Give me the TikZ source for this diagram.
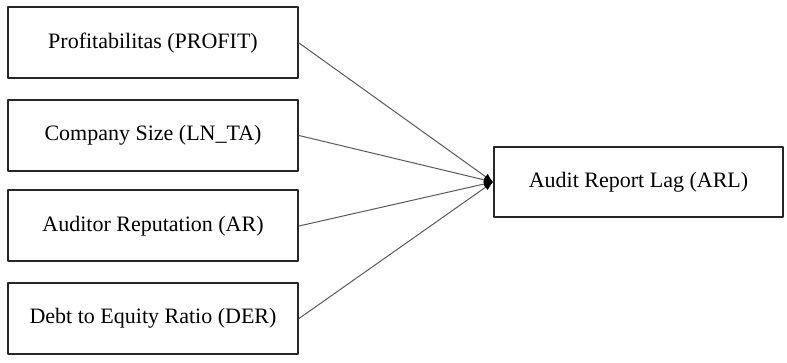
\documentclass[tikz,border=0pt]{standalone}
\usepackage{fontspec}
\setmainfont{Liberation Serif}
\usetikzlibrary{arrows.meta}

\begin{document}
\begin{tikzpicture}[line cap=round,line join=round,>={Latex[length=4.5pt,width=3.6pt]},x=0.5pt,y=-0.5pt,
  varbox/.style={draw=black!85,line width=1pt,minimum width=145pt,minimum height=35.5pt,inner sep=0pt,font=\fontsize{11}{13}\selectfont},
  link/.style={-{>[black]},draw=black!65,line width=0.5pt}]

\useasboundingbox (0,0) rectangle (787,363);

\node[varbox] (profit) at (153,43) {Profitabilitas (PROFIT)};
\node[varbox] (lnta) at (153,135.5) {Company Size (LN\_TA)};
\node[varbox] (ar) at (153,226) {Auditor Reputation (AR)};
\node[varbox] (der) at (153,318.5) {Debt to Equity Ratio (DER)};
\node[varbox,minimum width=144.5pt,minimum height=35pt] (arl) at (638.5,182) {Audit Report Lag (ARL)};

\draw[link] (profit.east) -- (arl.west);
\draw[link] (lnta.east) -- (arl.west);
\draw[link] (ar.east) -- (arl.west);
\draw[link] (der.east) -- (arl.west);
\end{tikzpicture}
\end{document}
